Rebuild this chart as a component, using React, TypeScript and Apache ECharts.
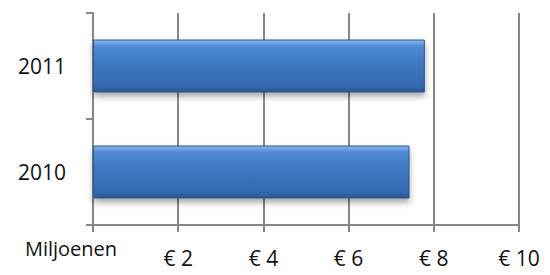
import React, { useEffect, useRef } from "react";
import * as echarts from "echarts";

const categories = ["2010", "2011"];
const values = [7.43, 7.79];
const xTicks = [0, 2, 4, 6, 8, 10];
const unitLabel = "Miljoenen";

export default function App() {
  const ref = useRef<HTMLDivElement>(null);
  useEffect(() => {
    const chart = echarts.init(ref.current!, null, { renderer: "svg" });
    const font = "'Open Sans', 'DejaVu Sans', sans-serif";
    chart.setOption({
      animation: false,
      grid: { left: 93, right: 31, top: 13, bottom: 50, containLabel: false },
      xAxis: {
        type: "value",
        min: xTicks[0],
        max: xTicks[xTicks.length - 1],
        interval: 2,
        axisLine: { show: true, lineStyle: { color: "#878787", width: 2 } },
        axisTick: { show: true, length: 7, lineStyle: { color: "#878787", width: 2 } },
        splitLine: { show: true, lineStyle: { color: "#878787", width: 2 } },
        axisLabel: {
          margin: 22,
          color: "#111",
          fontSize: 21,
          fontFamily: font,
          formatter: (v: number) => (v === 0 ? "" : "€ " + v),
        },
      },
      yAxis: {
        type: "category",
        data: categories,
        axisLine: { show: true, lineStyle: { color: "#878787", width: 2 } },
        axisTick: { show: true, length: 7, lineStyle: { color: "#878787", width: 2 } },
        axisLabel: { margin: 27, color: "#111", fontSize: 21, fontFamily: font },
      },
      graphic: [
        {
          type: "text",
          x: 71,
          y: 248,
          style: {
            text: unitLabel,
            fill: "#111",
            fontSize: 20,
            fontFamily: font,
            textAlign: "center",
            textVerticalAlign: "middle",
          },
        },
      ],
      series: [
        {
          type: "bar",
          data: values,
          barWidth: 53,
          itemStyle: {
            color: new echarts.graphic.LinearGradient(0, 0, 0, 1, [
              { offset: 0, color: "#8ab8ef" },
              { offset: 0.12, color: "#4f8ad6" },
              { offset: 0.5, color: "#3d76c0" },
              { offset: 0.88, color: "#336aaf" },
              { offset: 1, color: "#2a5790" },
            ]),
            borderColor: "#2b568c",
            borderWidth: 1,
            shadowColor: "rgba(0,0,0,0.35)",
            shadowBlur: 6,
            shadowOffsetY: 4,
          },
        },
      ],
    });
    return () => chart.dispose();
  }, []);
  return <div ref={ref} style={{ width: 550, height: 275, position: "absolute", left: 0, top: 0 }} />;
}
